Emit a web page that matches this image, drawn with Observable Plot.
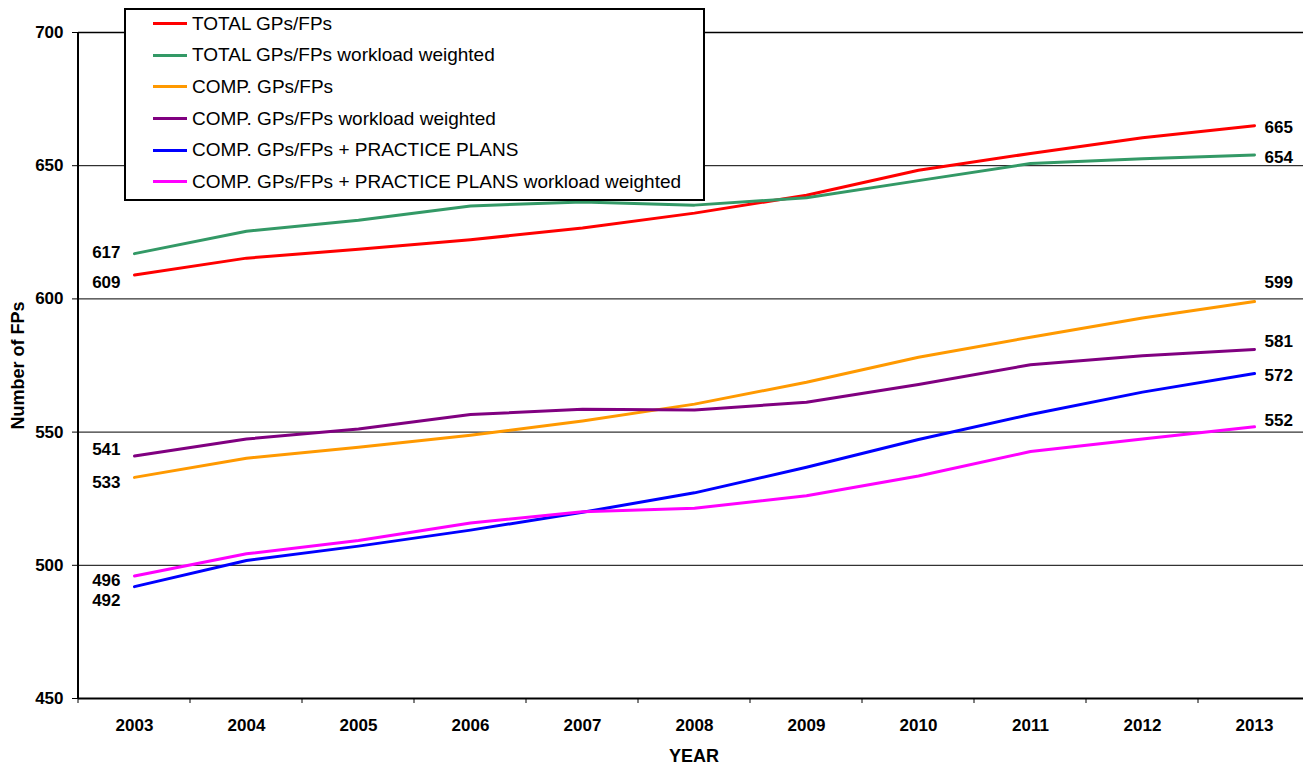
<!DOCTYPE html>
<html>
<head>
<meta charset="utf-8">
<script src="https://cdn.jsdelivr.net/npm/d3@7"></script>
<script src="https://cdn.jsdelivr.net/npm/@observablehq/plot@0.6"></script>
<style>
  html, body { margin: 0; padding: 0; background: #fff; }
  #wrap { position: relative; width: 1303px; height: 766px; overflow: hidden;
          font-family: "Liberation Sans", Arial, sans-serif; }
  #wrap svg { display: block; }
  .legend { position: absolute; left: 124px; top: 8px; width: 581px; height: 193px;
            box-sizing: border-box; border: 2px solid #000; background: #fff; }
  .legend .rows { position: relative; top: -2px; }
  .legend .row { display: flex; align-items: center; height: 31.6px; font-size: 19px;
                 color: #000; white-space: nowrap; }
  .legend .sw { width: 34px; height: 3px; margin-left: 27px; margin-right: 5px; flex: none; }
</style>
</head>
<body>
<div id="wrap"></div>
<script>
// Years on the category axis
const years = [2003, 2004, 2005, 2006, 2007, 2008, 2009, 2010, 2011, 2012, 2013];

// Series names (legend order) and their colours
const seriesNames = [
  "TOTAL GPs/FPs",
  "TOTAL GPs/FPs workload weighted",
  "COMP. GPs/FPs",
  "COMP. GPs/FPs workload weighted",
  "COMP. GPs/FPs + PRACTICE PLANS",
  "COMP. GPs/FPs + PRACTICE PLANS workload weighted"
];
const seriesColors = ["#FF0000", "#339966", "#FF9900", "#800080", "#0000FF", "#FF00FF"];

// Number of FPs per year, one array per series
const totalGP             = [609, 615.3, 618.6, 622.2, 626.6, 632.2, 638.9, 648.3, 654.6, 660.5, 665];
const totalGPWeighted     = [617, 625.4, 629.5, 634.9, 636.4, 635.2, 638.0, 644.4, 650.8, 652.6, 654];
const compGP              = [533, 540.2, 544.3, 548.8, 554.2, 560.5, 568.7, 578.1, 585.6, 592.8, 599];
const compGPWeighted      = [541, 547.4, 551.2, 556.6, 558.6, 558.3, 561.2, 567.9, 575.3, 578.7, 581];
const compGPPlans         = [492, 501.8, 507.2, 513.2, 519.9, 527.2, 536.8, 547.2, 556.6, 565.0, 572];
const compGPPlansWeighted = [496, 504.3, 509.3, 515.9, 520.1, 521.4, 526.1, 533.5, 542.7, 547.4, 552];

// Y axis ticks
const yTicks = [450, 500, 550, 600, 650, 700];
const gridValues = [500, 550, 600, 650];

// Axis titles
const yTitle = "Number of FPs";
const xTitle = "YEAR";

// Vertical nudges (px) for the first/last value labels so they clear each other
const startDy = [8, -1, 5, -7, 14, 5];
const endDy = [1.5, 3, -19, -8, 2, -6];

const seriesValues = [totalGP, totalGPWeighted, compGP, compGPWeighted, compGPPlans, compGPPlansWeighted];

const rows = seriesNames.flatMap((name, i) =>
  years.map((year, j) => ({ series: name, year, value: seriesValues[i][j] }))
);

const valueLabels = seriesNames.flatMap((name, i) => {
  const vals = seriesValues[i];
  const first = { year: years[0], value: vals[0] };
  const last = { year: years[years.length - 1], value: vals[vals.length - 1] };
  return [
    Plot.text([first], { x: "year", y: "value", text: d => String(Math.round(d.value)),
                         textAnchor: "end", dx: -14, dy: startDy[i], fill: "#000" }),
    Plot.text([last], { x: "year", y: "value", text: d => String(Math.round(d.value)),
                        textAnchor: "start", dx: 10, dy: endDy[i], fill: "#000" })
  ];
});

const chart = Plot.plot({
  width: 1303,
  height: 766,
  marginLeft: 78,
  marginRight: 0,
  marginTop: 32,
  marginBottom: 68,
  style: { fontFamily: "'Liberation Sans', Arial, sans-serif", fontSize: "17px",
           fontWeight: "bold", color: "#000", background: "#fff" },
  x: { type: "band", domain: years, range: [78, 1310], padding: 0, label: null,
       tickSize: 0, tickPadding: 20, tickFormat: d => String(d) },
  y: { domain: [450, 700], ticks: yTicks, tickSize: 6, tickPadding: 9, label: null },
  color: { domain: seriesNames, range: seriesColors },
  marks: [
    Plot.ruleY(gridValues, { stroke: "#000", strokeWidth: 1 }),
    Plot.ruleY([700], { stroke: "#000", strokeWidth: 1.5 }),
    Plot.ruleY([450], { stroke: "#000", strokeWidth: 2 }),
    Plot.line(rows, { x: "year", y: "value", z: "series", stroke: "series",
                      strokeWidth: 3, strokeLinejoin: "round", strokeLinecap: "round" }),
    ...valueLabels,
    Plot.text([yTitle], { text: d => d, frameAnchor: "left", rotate: -90, dx: -60,
                          textAnchor: "middle", lineAnchor: "middle", fontSize: 18, fill: "#000" }),
    Plot.text([xTitle], { text: d => d, frameAnchor: "bottom", dx: 3, dy: 58,
                          textAnchor: "middle", lineAnchor: "middle", fontSize: 18, fill: "#000" })
  ]
});

// Left axis line and category-boundary ticks, placed with the chart's own scales
const xs = chart.scale("x");
const ys = chart.scale("y");
const yBottom = ys.apply(450);
const yTop = ys.apply(700);
const extra = d3.select(chart).append("g").attr("stroke", "#000").attr("fill", "none");
years.forEach(yr => {
  const bx = xs.apply(yr);
  extra.append("line").attr("x1", bx).attr("x2", bx)
    .attr("y1", yBottom).attr("y2", yBottom + 5).attr("stroke-width", 1);
});
const x0 = xs.apply(years[0]);
extra.append("line").attr("x1", x0).attr("x2", x0)
  .attr("y1", yTop).attr("y2", yBottom + 1).attr("stroke-width", 2);

const wrap = document.getElementById("wrap");
wrap.appendChild(chart);

// Legend box over the top-left of the plot
const legend = d3.select(wrap).append("div").attr("class", "legend")
  .append("div").attr("class", "rows");
seriesNames.forEach((name, i) => {
  const row = legend.append("div").attr("class", "row");
  row.append("span").attr("class", "sw").style("background", seriesColors[i]);
  row.append("span").text(name);
});
</script>
</body>
</html>
